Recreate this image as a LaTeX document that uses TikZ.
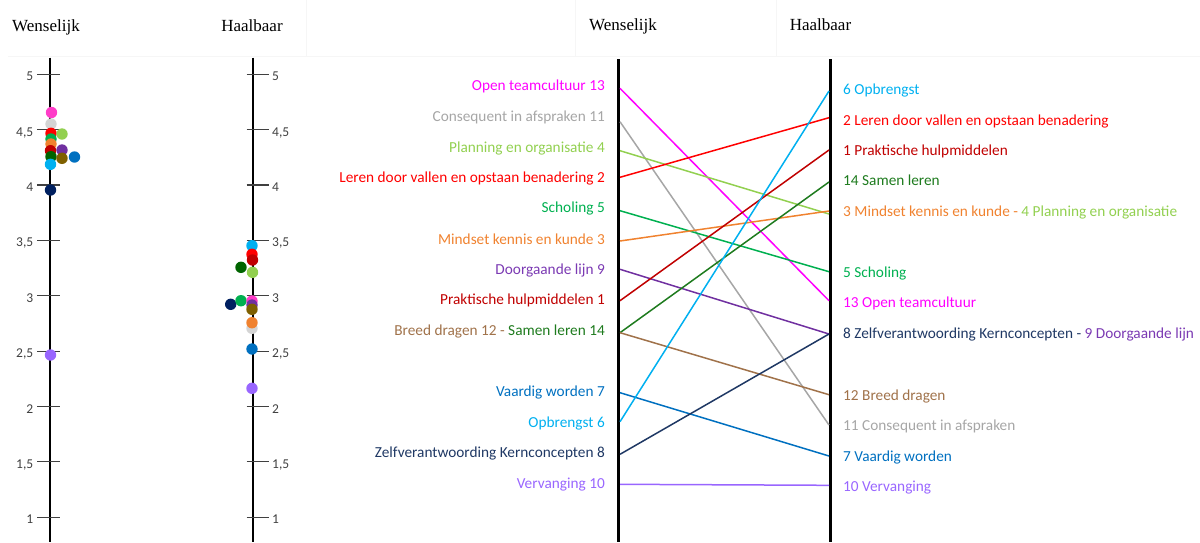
\documentclass[tikz,border=0pt]{standalone}
\usepackage{fontspec}
\setmainfont{Liberation Serif}
\newfontfamily\lblfont{Carlito}

% palette
\definecolor{cMag}{HTML}{FF00FF}
\definecolor{cPink}{HTML}{FF3CC8}
\definecolor{cGray}{HTML}{A6A6A6}
\definecolor{cGrayDot}{HTML}{D4D4D4}
\definecolor{cLGreen}{HTML}{92D050}
\definecolor{cRed}{HTML}{FF0000}
\definecolor{cGreen}{HTML}{00B050}
\definecolor{cOrange}{HTML}{F0822F}
\definecolor{cPurple}{HTML}{7030A0}
\definecolor{cPurpleTxt}{HTML}{7B3AB3}
\definecolor{cDRed}{HTML}{C00000}
\definecolor{cDGreen}{HTML}{1E7B1E}
\definecolor{cDGreenDot}{HTML}{006400}
\definecolor{cBrown}{HTML}{A0724A}
\definecolor{cBrownDot}{HTML}{7F6000}
\definecolor{cBlue}{HTML}{0070C0}
\definecolor{cCyan}{HTML}{00B0F0}
\definecolor{cNavy}{HTML}{1F3864}
\definecolor{cNavyDot}{HTML}{002060}
\definecolor{cLav}{HTML}{9966FF}
\definecolor{cTick}{HTML}{404040}
\definecolor{cRule}{HTML}{F6F6F6}

\begin{document}
\begin{tikzpicture}[x=1pt,y=-1pt,
  head/.style={font=\fontsize{17}{19}\selectfont, inner sep=0pt, anchor=base},
  ticklbl/.style={font=\lblfont\fontsize{13.5}{15}\selectfont, text=cTick, inner sep=0pt, text height=9pt, text depth=0pt},
  axisline/.style={line width=2pt, black},
  slopeaxis/.style={line width=2.6pt, black},
  tickmark/.style={line width=1.1pt, cTick},
  rule/.style={line width=0.8pt, cRule},
  dot/.style={fill=#1},
  lbl/.style={font=\lblfont\fontsize{15.3}{17}\selectfont, inner sep=0pt},
  lleft/.style={lbl, anchor=base east},
  lright/.style={lbl, anchor=base west},
  link/.style={line width=1.5pt, #1},
]
\useasboundingbox (0,0) rectangle (1200,542);
\clip (0,0) rectangle (1200,542);

% faint table rules of the header row
\draw[rule] (8,56) -- (1200,56);
\draw[rule] (306,0) -- (306,56);
\draw[rule] (575,0) -- (575,56);
\draw[rule] (776,0) -- (776,56);

% ---------- column headings ----------
\node[head] (hW1) at (46,31) {Wenselijk};
\node[head] (hH1) at (252,31) {Haalbaar};
\node[head] (hW2) at (623,30) {Wenselijk};
\node[head] (hH2) at (820.5,30) {Haalbaar};

% ---------- dot-plot axes ----------
\draw[axisline] (49.5,57.5) -- (49.5,542);
\draw[axisline] (252.5,57.5) -- (252.5,542);
\foreach \yy/\tt in {74.3/5, 129.6/{4,5}, 185/4, 240.4/{3,5}, 295.7/3, 351.1/{2,5}, 406.5/2, 461.9/{1,5}, 517.3/1}{
  \draw[tickmark] (37,\yy) -- (60,\yy);
  \draw[tickmark] (246.5,\yy) -- (268.5,\yy);
  \node[ticklbl, anchor=east] at (33.5,\yy+2) {\tt};
  \node[ticklbl, anchor=west] at (272,\yy+2) {\tt};
}

% Wenselijk scores
\foreach \px/\py/\cc in {
  51/124/cGrayDot, 51.5/112.5/cPink, 51/133.3/cRed, 62/134/cLGreen,
  51/139/cGreen, 51/144/cOrange, 50.5/150.7/cDRed, 62/150/cPurple,
  51/156.7/cDGreenDot, 62/158.3/cBrownDot, 74.5/157/cBlue,
  50.5/164.3/cCyan, 50.5/190/cNavyDot, 50.5/355/cLav}{
  \fill[dot=\cc] (\px,\py) circle (5.7);
}

% Haalbaar scores
\foreach \px/\py/\cc in {
  252/245.7/cCyan, 252/254.3/cRed, 252.5/260/cDRed, 241/267.3/cDGreenDot,
  252.5/272.3/cLGreen, 230.7/304.3/cNavyDot, 241/300.7/cGreen,
  252/301/cPink, 252/305/cPurple, 252/309.3/cBrownDot,
  252/328.3/cGrayDot, 252/322.7/cOrange, 252/349/cBlue, 252/388.3/cLav}{
  \fill[dot=\cc] (\px,\py) circle (5.7);
}

% ---------- slope chart ----------
\draw[slopeaxis] (618.3,59) -- (618.3,542);
\draw[slopeaxis] (830.7,59) -- (830.7,542);

% end points on the Wenselijk axis
\coordinate (w13) at (620,88.3);
\coordinate (w11) at (620,121.7);
\coordinate (w4)  at (620,150.7);
\coordinate (w2)  at (620,177.3);
\coordinate (w5)  at (620,210.7);
\coordinate (w3)  at (620,241);
\coordinate (w9)  at (620,269.3);
\coordinate (w1)  at (620,300.7);
\coordinate (w14) at (620,332.7);
\coordinate (w12) at (620,332.7);
\coordinate (w7)  at (620,392.7);
\coordinate (w6)  at (620,421.7);
\coordinate (w8)  at (620,454.3);
\coordinate (w10) at (620,484.3);
% end points on the Haalbaar axis
\coordinate (h6)  at (829,91);
\coordinate (h2)  at (829,117.7);
\coordinate (h1)  at (829,150);
\coordinate (h14) at (829,182);
\coordinate (h3)  at (829,211);
\coordinate (h4)  at (829,214);
\coordinate (h5)  at (829,271.7);
\coordinate (h13) at (829,300.7);
\coordinate (h8)  at (829,334);
\coordinate (h9)  at (829,334);
\coordinate (h12) at (829,394.7);
\coordinate (h11) at (829,425);
\coordinate (h7)  at (829,456);
\coordinate (h10) at (829,485.3);

\draw[link=cMag]    (w13) -- (h13);
\draw[link=cGray]   (w11) -- (h11);
\draw[link=cLGreen] (w4)  -- (h4);
\draw[link=cRed]    (w2)  -- (h2);
\draw[link=cGreen]  (w5)  -- (h5);
\draw[link=cOrange] (w3)  -- (h3);
\draw[link=cPurple] (w9)  -- (h9);
\draw[link=cDRed]   (w1)  -- (h1);
\draw[link=cDGreen] (w14) -- (h14);
\draw[link=cBrown]  (w12) -- (h12);
\draw[link=cBlue]   (w7)  -- (h7);
\draw[link=cCyan]   (w6)  -- (h6);
\draw[link=cNavy]   (w8)  -- (h8);
\draw[link=cLav]    (w10) -- (h10);

% labels, Wenselijk side
\node[lleft, text=cMag]    (lw13) at (605,90.7)  {Open teamcultuur 13};
\node[lleft, text=cGray]   (lw11) at (605,121)   {Consequent in afspraken 11};
\node[lleft, text=cLGreen] (lw4)  at (605,152.3) {Planning en organisatie 4};
\node[lleft, text=cRed]    (lw2)  at (605,182.3) {Leren door vallen en opstaan benadering 2};
\node[lleft, text=cGreen]  (lw5)  at (605,212.7) {Scholing 5};
\node[lleft, text=cOrange] (lw3)  at (605,244)   {Mindset kennis en kunde 3};
\node[lleft, text=cPurpleTxt] (lw9) at (605,274.3) {Doorgaande lijn 9};
\node[lleft, text=cDRed]   (lw1)  at (605,304.3) {Praktische hulpmiddelen 1};
\node[lleft]               (lw12) at (605,335.7) {\textcolor{cBrown}{Breed dragen 12} \textcolor{cBrown}{-} \textcolor{cDGreen}{Samen leren 14}};
\node[lleft, text=cBlue]   (lw7)  at (605,396)   {Vaardig worden 7};
\node[lleft, text=cCyan]   (lw6)  at (605,427.3) {Opbrengst 6};
\node[lleft, text=cNavy]   (lw8)  at (605,457.7) {Zelfverantwoording Kernconcepten 8};
\node[lleft, text=cLav]    (lw10) at (605,488.3) {Vervanging 10};

% labels, Haalbaar side
\node[lright, text=cCyan]  (lh6)  at (843,94)    {6 Opbrengst};
\node[lright, text=cRed]   (lh2)  at (843,125)   {2 Leren door vallen en opstaan benadering};
\node[lright, text=cDRed]  (lh1)  at (843,155)   {1 Praktische hulpmiddelen};
\node[lright, text=cDGreen](lh14) at (843,185.7) {14 Samen leren};
\node[lright]              (lh3)  at (843,216.7) {\textcolor{cOrange}{3 Mindset kennis en kunde -} \textcolor{cLGreen}{4 Planning en organisatie}};
\node[lright, text=cGreen] (lh5)  at (843,277.3) {5 Scholing};
\node[lright, text=cMag]   (lh13) at (843,307.7) {13 Open teamcultuur};
\node[lright]              (lh8)  at (843,338.3) {\textcolor{cNavy}{8 Zelfverantwoording Kernconcepten -} \textcolor{cPurpleTxt}{9 Doorgaande lijn}};
\node[lright, text=cBrown] (lh12) at (843,400)   {12 Breed dragen};
\node[lright, text=cGray]  (lh11) at (843,430.7) {11 Consequent in afspraken};
\node[lright, text=cBlue]  (lh7)  at (843,461)   {7 Vaardig worden};
\node[lright, text=cLav]   (lh10) at (843,491)   {10 Vervanging};
\end{tikzpicture}
\end{document}
